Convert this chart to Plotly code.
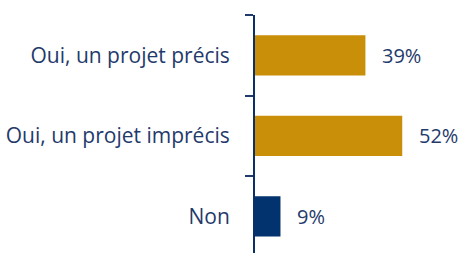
import plotly.graph_objects as go

categories = ["Oui, un projet précis", "Oui, un projet imprécis", "Non"]
values = [39, 52, 9]
labels = ["39%", "52%", "9%"]
bar_colors = ["#C98F08", "#C98F08", "#02336E"]

TEXT = "#1F3A6B"
FONT = "Open Sans"

fig = go.Figure()
fig.add_trace(go.Bar(
    y=categories, x=values, orientation="h",
    marker=dict(color=bar_colors, line=dict(width=0)),
    width=0.5, hoverinfo="skip",
))

for c, v, t in zip(categories, values, labels):
    fig.add_annotation(x=v, y=c, text=t, showarrow=False, xanchor="left",
                       xshift=15, font=dict(family=FONT, size=20, color=TEXT))

fig.update_layout(
    width=460, height=253,
    margin=dict(l=255, r=0, t=15, b=0),
    paper_bgcolor="white", plot_bgcolor="white",
    showlegend=False,
    xaxis=dict(range=[0, 72.4], visible=False, fixedrange=True),
    yaxis=dict(
        type="category", categoryorder="array", categoryarray=categories,
        range=[2.4565, -0.5], automargin=False,
        tickson="boundaries", ticks="outside", ticklen=8, tickwidth=2,
        tickcolor="#1F3A6B",
        showline=True, linecolor="#0B3068", linewidth=2,
        showgrid=False, zeroline=False,
        tickfont=dict(family=FONT, size=21, color=TEXT),
        ticklabelstandoff=19,
    ),
)

fig.write_html(
    "out.html",
    config={"displayModeBar": False},
    post_script="document.body.style.margin='0';document.body.style.overflow='hidden';",
)
